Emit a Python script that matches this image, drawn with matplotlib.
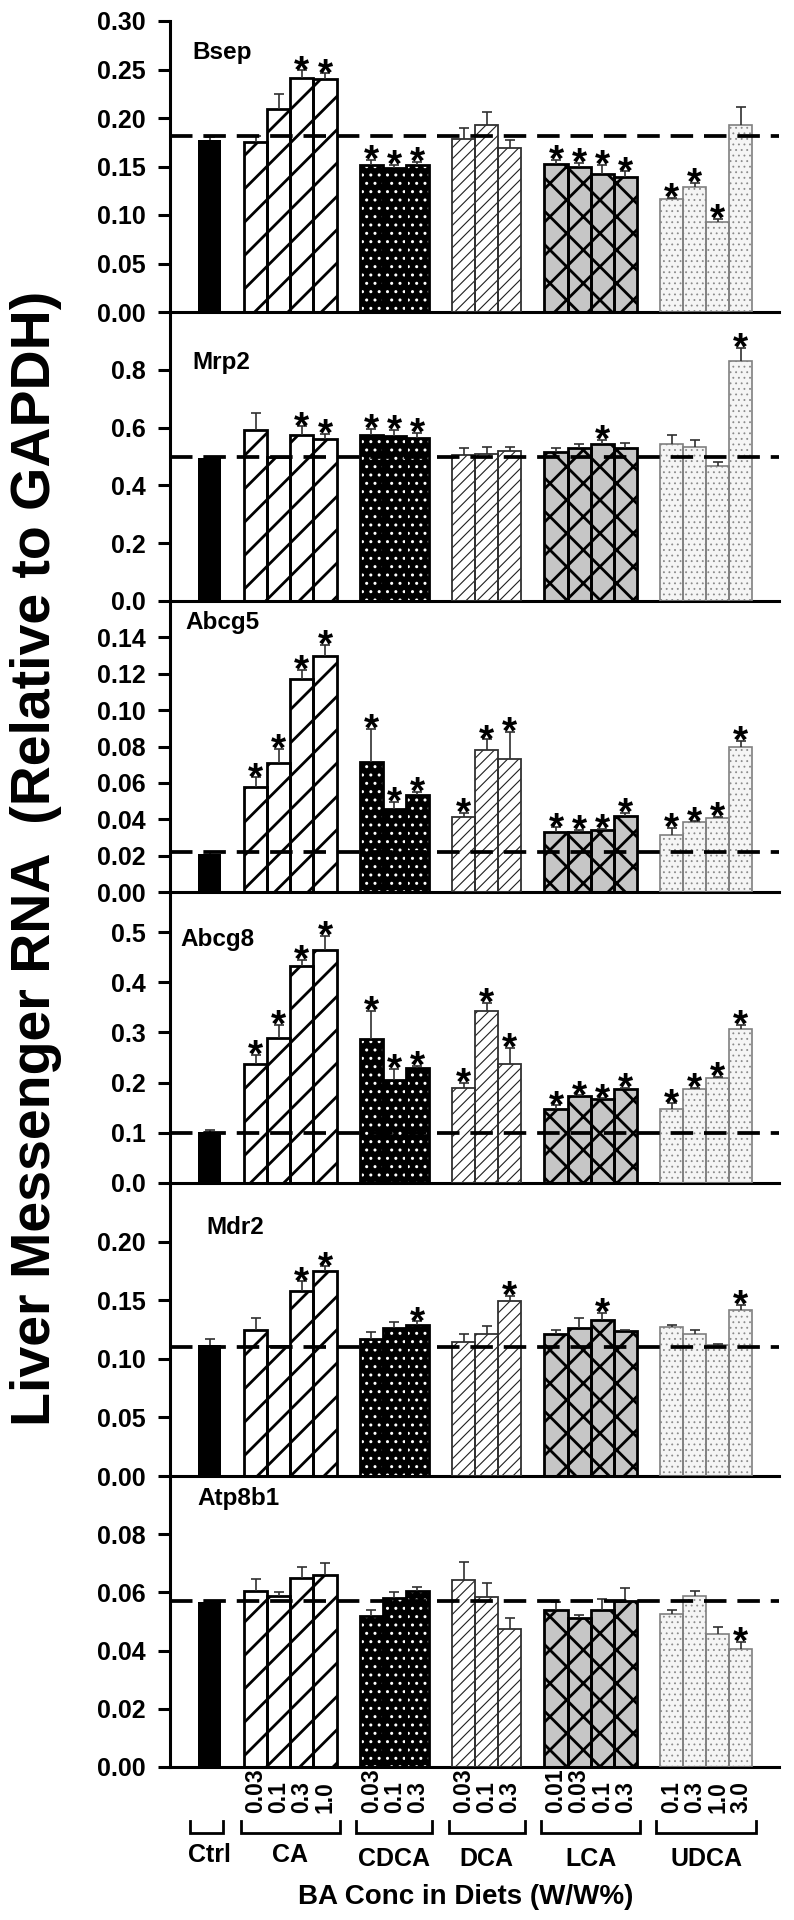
import numpy as np
import matplotlib
matplotlib.use("Agg")
import matplotlib.pyplot as plt
from matplotlib import transforms as mtransforms

plt.rcParams['font.family'] = ['Liberation Sans', 'DejaVu Sans']
plt.rcParams['font.weight'] = 'bold'

# ---------------- data ----------------
groups = ["Ctrl", "CA", "CDCA", "DCA", "LCA", "UDCA"]
group_sizes = [1, 4, 3, 3, 4, 4]
conc_labels = ["", "0.03", "0.1", "0.3", "1.0",
               "0.03", "0.1", "0.3",
               "0.03", "0.1", "0.3",
               "0.01", "0.03", "0.1", "0.3",
               "0.1", "0.3", "1.0", "3.0"]
genes = ["Bsep", "Mrp2", "Abcg5", "Abcg8", "Mdr2", "Atp8b1"]

bsep_mean = [0.177, 0.175, 0.209, 0.241, 0.240, 0.152, 0.148, 0.152, 0.178, 0.193, 0.169,
             0.153, 0.150, 0.142, 0.139, 0.116, 0.129, 0.093, 0.193]
bsep_err = [0.003, 0.006, 0.016, 0.008, 0.006, 0.005, 0.004, 0.003, 0.012, 0.013, 0.008,
            0.004, 0.004, 0.010, 0.006, 0.002, 0.004, 0.003, 0.018]
bsep_sig = [0, 0, 0, 1, 1, 1, 1, 1, 0, 0, 0, 1, 1, 1, 1, 1, 1, 1, 0]
bsep_ctrl_line = 0.181

mrp2_mean = [0.495, 0.593, 0.497, 0.576, 0.559, 0.573, 0.570, 0.563, 0.505, 0.508, 0.520,
             0.517, 0.528, 0.542, 0.530, 0.542, 0.533, 0.468, 0.832]
mrp2_err = [0.005, 0.059, 0.0, 0.028, 0.019, 0.022, 0.022, 0.019, 0.025, 0.025, 0.014,
            0.014, 0.016, 0.015, 0.015, 0.031, 0.024, 0.014, 0.045]
mrp2_sig = [0, 0, 0, 1, 1, 1, 1, 1, 0, 0, 0, 0, 0, 1, 0, 0, 0, 0, 1]
mrp2_ctrl_line = 0.50

abcg5_mean = [0.021, 0.058, 0.0707, 0.117, 0.130, 0.0716, 0.0457, 0.0535, 0.041, 0.078, 0.0734,
              0.0329, 0.0332, 0.034, 0.042, 0.0314, 0.0383, 0.0405, 0.080]
abcg5_err = [0.001, 0.005, 0.008, 0.005, 0.006, 0.018, 0.004, 0.0015, 0.0025, 0.006, 0.0146,
             0.0027, 0.0008, 0.0007, 0.0015, 0.0038, 0.0006, 0.0009, 0.003]
abcg5_sig = [0, 1, 1, 1, 1, 1, 1, 1, 1, 1, 1, 1, 1, 1, 1, 1, 1, 1, 1]
abcg5_ctrl_line = 0.022

abcg8_mean = [0.102, 0.237, 0.289, 0.433, 0.465, 0.287, 0.205, 0.230, 0.190, 0.342, 0.237,
              0.147, 0.173, 0.167, 0.187, 0.147, 0.187, 0.209, 0.307]
abcg8_err = [0.003, 0.018, 0.026, 0.012, 0.028, 0.056, 0.022, 0.003, 0.010, 0.017, 0.032,
             0.008, 0.002, 0.002, 0.002, 0.012, 0.003, 0.002, 0.008]
abcg8_sig = [0, 1, 1, 1, 1, 1, 1, 1, 1, 1, 1, 1, 1, 1, 1, 1, 1, 1, 1]
abcg8_ctrl_line = 0.10

mdr2_mean = [0.112, 0.125, 0.111, 0.158, 0.175, 0.117, 0.126, 0.129, 0.114, 0.121, 0.149,
             0.121, 0.126, 0.133, 0.124, 0.127, 0.121, 0.112, 0.142]
mdr2_err = [0.005, 0.010, 0.0, 0.008, 0.004, 0.006, 0.005, 0.003, 0.007, 0.007, 0.005,
            0.004, 0.009, 0.006, 0.001, 0.002, 0.004, 0.001, 0.004]
mdr2_sig = [0, 0, 0, 1, 1, 0, 0, 1, 0, 0, 1, 0, 0, 1, 0, 0, 0, 0, 1]
mdr2_ctrl_line = 0.11

atp8b1_mean = [0.0567, 0.0606, 0.0588, 0.0650, 0.0661, 0.0518, 0.0580, 0.0606, 0.0644, 0.0585, 0.0473,
               0.0541, 0.0512, 0.0541, 0.0570, 0.0526, 0.0588, 0.0456, 0.0406]
atp8b1_err = [0.0005, 0.0039, 0.0012, 0.0036, 0.0041, 0.0021, 0.0020, 0.0014, 0.0060, 0.0048, 0.0039,
              0.0026, 0.0012, 0.0038, 0.0044, 0.0015, 0.0016, 0.0024, 0.0024]
atp8b1_sig = [0, 0, 0, 0, 0, 0, 0, 0, 0, 0, 0, 0, 0, 0, 0, 0, 0, 0, 1]
atp8b1_ctrl_line = 0.057

panel_means = [bsep_mean, mrp2_mean, abcg5_mean, abcg8_mean, mdr2_mean, atp8b1_mean]
panel_errs = [bsep_err, mrp2_err, abcg5_err, abcg8_err, mdr2_err, atp8b1_err]
panel_sigs = [bsep_sig, mrp2_sig, abcg5_sig, abcg8_sig, mdr2_sig, atp8b1_sig]
panel_lines = [bsep_ctrl_line, mrp2_ctrl_line, abcg5_ctrl_line, abcg8_ctrl_line,
               mdr2_ctrl_line, atp8b1_ctrl_line]

# axis setup per panel: (ymax, tick step, last tick, format)
panel_axes = [(0.30, 0.05, 0.30, "%.2f"),
              (1.00, 0.2, 0.8, "%.1f"),
              (0.16, 0.02, 0.14, "%.2f"),
              (0.58, 0.1, 0.5, "%.1f"),
              (0.25, 0.05, 0.20, "%.2f"),
              (0.10, 0.02, 0.08, "%.2f")]

# ---------------- layout ----------------
W, H = 794, 1920
fig = plt.figure(figsize=(W / 100, H / 100), dpi=100)


def fx(px):
    return px / W


def fy(py):
    return 1 - py / H


tops = [21, 312, 601, 892, 1183, 1476]
bottoms = [312, 601, 892, 1183, 1476, 1767]
ax_left, ax_right = 170, 779
bar_c0, bar_unit = 209.5, 23.1
xlim = ((ax_left - bar_c0) / bar_unit, (ax_right - bar_c0) / bar_unit)

positions = []
p = 0
group_ranges = []
for n in group_sizes:
    group_ranges.append((p, p + n - 1))
    positions.extend(range(p, p + n))
    p += n + 1
positions = np.array(positions, dtype=float)

# styles per group: face, hatch, hatch color, hatch lw, edge color, edge lw
styles = [
    ("black", None, "black", 1.0, "black", 1.0),
    ("white", "/", "black", 2.0, "black", 2.0),
    ("black", "..", "white", 1.0, "black", 2.0),
    ("white", "///", "#202020", 0.8, "#303030", 1.3),
    ("#c6c6c6", "x", "black", 2.0, "black", 2.0),
    ("#f5f5f5", "...", "#8a8a8a", 0.6, "#808080", 1.2),
]

label_pos = [(192, 31), (192, 51), (185, 22), (180, 48), (206, 44), (197, 22)]

axes = []
for i in range(6):
    t, b = tops[i], bottoms[i]
    ax = fig.add_axes([fx(ax_left), fy(b), fx(ax_right - ax_left), (b - t) / H])
    axes.append(ax)
    means = np.array(panel_means[i])
    errs = np.array(panel_errs[i])
    sig = panel_sigs[i]

    start = 0
    for gi, n in enumerate(group_sizes):
        xs = positions[start:start + n]
        hs = means[start:start + n]
        face, hatch, hcol, hlw, ecol, elw = styles[gi]
        if hatch is None:
            ax.bar(xs, hs, width=1.0, color=face, edgecolor=ecol, linewidth=0, zorder=2)
        else:
            with plt.rc_context({'hatch.linewidth': hlw}):
                bars = ax.bar(xs, hs, width=1.0, color=face, edgecolor=hcol,
                              linewidth=0, hatch=hatch, zorder=2)
            for bb in bars:
                if hasattr(bb, 'set_hatch_linewidth'):
                    bb.set_hatch_linewidth(hlw)
            ax.bar(xs, hs, width=1.0, fill=False, edgecolor=ecol, linewidth=elw, zorder=3)
        start += n

    # error bars (upper only)
    has = errs > 0
    ax.vlines(positions[has], means[has], (means + errs)[has], color="#303030", lw=1.2, zorder=4)
    ax.plot(positions[has], (means + errs)[has], ls="none", marker="_", ms=7.5, mew=1.2,
            color="#303030", zorder=4)

    # control dashed line
    ax.axhline(panel_lines[i], color="black", lw=2.7, dashes=(6.0, 2.9), zorder=6)

    # significance stars
    for x, m, e, s in zip(positions, means, errs, sig):
        if s:
            ax.annotate("*", xy=(x, m + e), xytext=(0, -8.5), textcoords="offset points",
                        ha="center", va="baseline", fontsize=28, fontweight="bold",
                        annotation_clip=False, zorder=7)

    ymax, step, last, fmt = panel_axes[i]
    ax.set_ylim(0, ymax)
    ax.set_xlim(*xlim)
    ticks = np.arange(0, last + step / 2, step)
    ax.set_yticks(ticks)
    ax.set_yticklabels([fmt % v for v in ticks])
    ax.tick_params(axis="y", direction="out", length=8.5, width=2.2, pad=9,
                   labelsize=18)
    ax.set_xticks([])
    for sp in ["top", "right"]:
        ax.spines[sp].set_visible(False)
    for sp in ["left", "bottom"]:
        ax.spines[sp].set_linewidth(2.2)
    ax.patch.set_alpha(0)

    lx, ly = label_pos[i]
    fig.text(fx(lx), fy(t + ly), genes[i], ha="left", va="center", fontsize=17.5,
             fontweight="bold")

# ---------------- bottom annotations ----------------
axb = axes[-1]
trans = mtransforms.blended_transform_factory(axb.transData, fig.transFigure)
for x, lab in zip(positions, conc_labels):
    if lab:
        axb.text(x, fy(1813), lab, rotation=90, rotation_mode="anchor", ha="left",
                 va="center", fontsize=16.5, fontweight="bold", transform=trans)

for gi, (g0, g1) in enumerate(group_ranges):
    if gi == 0:
        x0, x1 = g0 - 0.85, g1 + 0.6
    else:
        x0, x1 = g0 - 0.65, g1 + 0.65
    axb.plot([x0, x0, x1, x1], [fy(1821), fy(1833), fy(1833), fy(1821)], color="black",
             lw=2.0, transform=trans, clip_on=False, solid_joinstyle="miter")
    yl = 1855 if gi < 2 else 1859
    axb.text((g0 + g1) / 2, fy(yl), groups[gi], ha="center", va="center", fontsize=18,
             fontweight="bold", transform=trans)

fig.text(fx(466), fy(1897), "BA Conc in Diets (W/W%)", ha="center", va="center",
         fontsize=20, fontweight="bold")

fig.text(fx(50), fy(858), "Liver Messenger RNA  (Relative to GAPDH)", rotation=90,
         rotation_mode="anchor", ha="center", va="baseline", fontsize=40,
         fontweight="bold")

fig.savefig("out.png", dpi=100)
